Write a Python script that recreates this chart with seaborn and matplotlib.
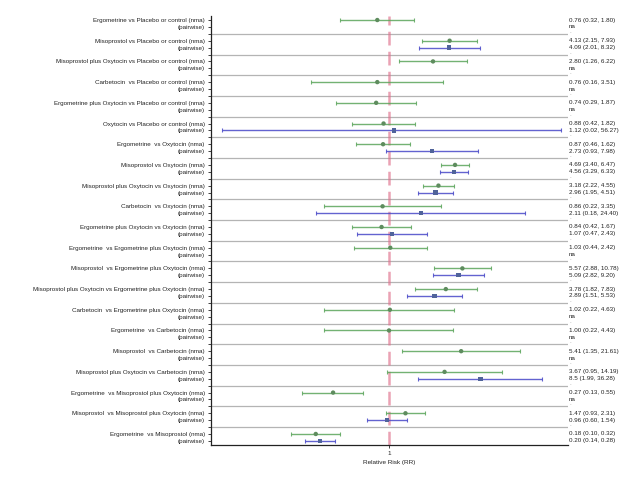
import matplotlib
matplotlib.use("Agg")
import matplotlib.pyplot as plt
import matplotlib.transforms as mtransforms
import numpy as np
import pandas as pd
import seaborn as sns

# comparisons (top to bottom)
comparisons = [
    "Ergometrine vs Placebo or control",
    "Misoprostol vs Placebo or control",
    "Misoprostol plus Oxytocin vs Placebo or control",
    "Carbetocin  vs Placebo or control",
    "Ergometrine plus Oxytocin vs Placebo or control",
    "Oxytocin vs Placebo or control",
    "Ergometrine  vs Oxytocin",
    "Misoprostol vs Oxytocin",
    "Misoprostol plus Oxytocin vs Oxytocin",
    "Carbetocin  vs Oxytocin",
    "Ergometrine plus Oxytocin vs Oxytocin",
    "Ergometrine  vs Ergometrine plus Oxytocin",
    "Misoprostol  vs Ergometrine plus Oxytocin",
    "Misoprostol plus Oxytocin vs Ergometrine plus Oxytocin",
    "Carbetocin  vs Ergometrine plus Oxytocin",
    "Ergometrine  vs Carbetocin",
    "Misoprostol  vs Carbetocin",
    "Misoprostol plus Oxytocin vs Carbetocin",
    "Ergometrine  vs Misoprostol plus Oxytocin",
    "Misoprostol  vs Misoprostol plus Oxytocin",
    "Ergometrine  vs Misoprostol",
]

# network meta-analysis estimates
nma_est = [0.76, 4.13, 2.80, 0.76, 0.74, 0.88, 0.87, 4.69, 3.18, 0.86, 0.84,
           1.03, 5.57, 3.78, 1.02, 1.00, 5.41, 3.67, 0.27, 1.47, 0.18]
nma_lo = [0.32, 2.15, 1.26, 0.16, 0.29, 0.42, 0.46, 3.40, 2.22, 0.22, 0.42,
          0.44, 2.88, 1.82, 0.22, 0.22, 1.35, 0.95, 0.13, 0.93, 0.10]
nma_hi = [1.80, 7.93, 6.22, 3.51, 1.87, 1.82, 1.62, 6.47, 4.55, 3.35, 1.67,
          2.42, 10.78, 7.83, 4.63, 4.43, 21.61, 14.19, 0.55, 2.31, 0.32]

# pairwise estimates (None = na)
pw_est = [None, 4.09, None, None, None, 1.12, 2.73, 4.56, 2.96, 2.11, 1.07,
          None, 5.09, 2.89, None, None, None, 8.5, None, 0.96, 0.20]
pw_lo = [None, 2.01, None, None, None, 0.02, 0.93, 3.29, 1.95, 0.18, 0.47,
         None, 2.82, 1.51, None, None, None, 1.99, None, 0.60, 0.14]
pw_hi = [None, 8.32, None, None, None, 56.27, 7.98, 6.33, 4.51, 24.40, 2.43,
         None, 9.20, 5.53, None, None, None, 36.28, None, 1.54, 0.28]

nma_color = "#5aa55a"
nma_marker = "#5e8c5e"
pw_color = "#4848c8"
pw_marker = "#50639a"

# build long table: each comparison takes 3 slots (nma, pairwise, separator)
rows = []
for i, comp in enumerate(comparisons):
    rows.append(dict(comp=comp, type="nma", pos=3 * i,
                     est=nma_est[i], lo=nma_lo[i], hi=nma_hi[i]))
    rows.append(dict(comp=comp, type="pairwise", pos=3 * i + 1,
                     est=pw_est[i], lo=pw_lo[i], hi=pw_hi[i]))
df = pd.DataFrame(rows)
df_ok = df.dropna(subset=["est"]).astype({"est": float, "lo": float, "hi": float})

sns.set_style("ticks")
plt.rcParams["font.family"] = ["Liberation Sans", "DejaVu Sans"]

fig = plt.figure(figsize=(6.4, 4.8), dpi=100)
ax = fig.add_axes([0.3297, 0.0729, 0.5578, 0.894])

n_slots = 3 * len(comparisons) - 1

# separators
for i in range(len(comparisons) - 1):
    ax.axhline(3 * i + 2, color="#b4b4b4", lw=0.9, zorder=1)

# reference line
ax.axvline(1, color="#e0708c", alpha=0.65, lw=1.8, ls=(0, (5.5, 2.5)), zorder=2)

# confidence intervals
for t, col in [("nma", nma_color), ("pairwise", pw_color)]:
    d = df_ok[df_ok["type"] == t]
    ax.errorbar(d["est"], d["pos"],
                xerr=[d["est"] - d["lo"], d["hi"] - d["est"]],
                fmt="none", ecolor=col, elinewidth=1.0, capsize=1.5,
                capthick=0.8, alpha=0.85, zorder=3)

sns.scatterplot(data=df_ok, x="est", y="pos", hue="type", style="type",
                palette={"nma": nma_marker, "pairwise": pw_marker},
                markers={"nma": "o", "pairwise": "s"},
                s=10, edgecolor="none", legend=False, ax=ax, zorder=4)

ax.set_xscale("log")
ax.set_xlim(0.0155, 66)
ax.set_ylim(n_slots - 1 + 0.6, -0.6)

ax.set_xticks([1])
ax.set_xticklabels(["1"])
ax.xaxis.set_minor_locator(matplotlib.ticker.NullLocator())
ax.set_xlabel("Relative Risk (RR)", fontsize=4.6, color="#222222", labelpad=3)
ax.set_ylabel("")

# y tick labels
yt = []
yl = []
for i, comp in enumerate(comparisons):
    yt += [3 * i, 3 * i + 1]
    yl += [comp + " (nma)", "(pairwise)"]
    if i < len(comparisons) - 1:
        yt.append(3 * i + 2)
        yl.append("")
ax.set_yticks(yt)
ax.set_yticklabels(yl)
ax.tick_params(axis="y", labelsize=4.5, length=2.5, width=0.6, pad=2,
               colors="#222222")
ax.tick_params(axis="x", labelsize=4.5, length=2.5, width=0.6, pad=2,
               colors="#222222")

for s in ["top", "right"]:
    ax.spines[s].set_visible(False)
for s in ["left", "bottom"]:
    ax.spines[s].set_linewidth(0.9)
    ax.spines[s].set_color("#222222")

# value column at the right
trans = mtransforms.blended_transform_factory(ax.transAxes, ax.transData)


def fmt(e, l, h):
    if e is None:
        return "na"
    es = "%.2f" % e if e != 8.5 else "8.5"
    return "%s (%.2f, %.2f)" % (es, l, h)


for i in range(len(comparisons)):
    ax.text(1.003, 3 * i, fmt(nma_est[i], nma_lo[i], nma_hi[i]),
            transform=trans, fontsize=4.5, va="center", ha="left",
            color="#222222", clip_on=False)
    ax.text(1.003, 3 * i + 1, fmt(pw_est[i], pw_lo[i], pw_hi[i]),
            transform=trans, fontsize=4.5, va="center", ha="left",
            color="#222222", clip_on=False)
    if i < len(comparisons) - 1:
        ax.text(1.003, 3 * i + 2, ".", transform=trans, fontsize=4.5,
                va="bottom", ha="left", color="#888888", clip_on=False)

fig.savefig("out.png", dpi=100)
